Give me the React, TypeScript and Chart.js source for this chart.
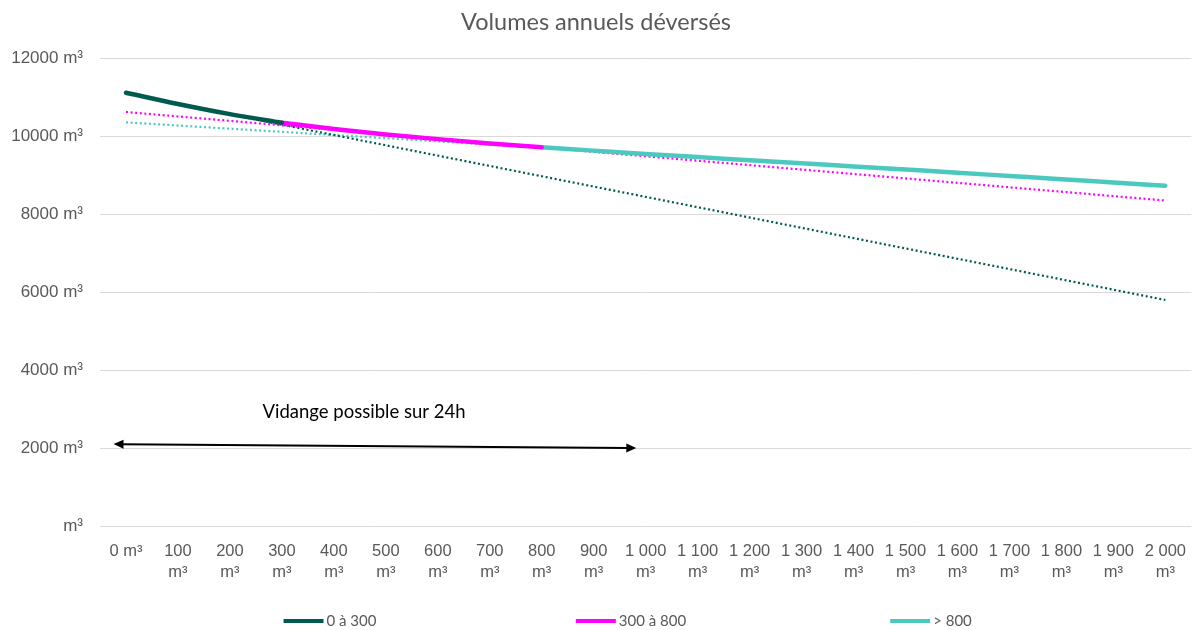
import React, { useEffect, useRef } from "react";
import { Chart, registerables } from "chart.js";

Chart.register(...registerables);

// ---- Data ----
const categories = [0, 100, 200, 300, 400, 500, 600, 700, 800, 900, 1000, 1100, 1200, 1300, 1400, 1500, 1600, 1700, 1800, 1900, 2000];
const xTickLabels: (string | string[])[] = [
  "0 m³", ["100", "m³"], ["200", "m³"], ["300", "m³"], ["400", "m³"], ["500", "m³"], ["600", "m³"], ["700", "m³"], ["800", "m³"], ["900", "m³"],
  ["1 000", "m³"], ["1 100", "m³"], ["1 200", "m³"], ["1 300", "m³"], ["1 400", "m³"], ["1 500", "m³"], ["1 600", "m³"], ["1 700", "m³"], ["1 800", "m³"], ["1 900", "m³"], ["2 000", "m³"],
];
const N = null;
const serie0a300 = [11110, 10820, 10560, 10340, N, N, N, N, N, N, N, N, N, N, N, N, N, N, N, N, N];
const serie300a800 = [N, N, N, 10340, 10180, 10040, 9920, 9810, 9710, N, N, N, N, N, N, N, N, N, N, N, N];
const seriePlus800 = [N, N, N, N, N, N, N, N, 9710, 9625, 9540, 9460, 9380, 9300, 9220, 9140, 9060, 8975, 8890, 8810, 8725];
// linear trend lines (end points)
const trend0a300 = [11083, N, N, N, N, N, N, N, N, N, N, N, N, N, N, N, N, N, N, N, 5795];
const trend300a800 = [10615, N, N, N, N, N, N, N, N, N, N, N, N, N, N, N, N, N, N, N, 8345];
const trendPlus800 = [10350, N, N, N, N, N, N, N, N, N, N, N, N, N, N, N, N, N, N, N, 8725];
const seriesNames = ["0 à 300", "300 à 800", "> 800"];
const yTicks = [0, 2000, 4000, 6000, 8000, 10000, 12000];
// annotation: arrow from / to (category index, value)
const arrowStart = { x: -0.24, y: 2100 };
const arrowEnd = { x: 9.82, y: 2000 };
const arrowText = { x: 4.58, y: 2920, text: "Vidange possible sur 24h" };

const DARK = "#005B4F";
const MAGENTA = "#FF00FF";
const TURQ = "#4CC9BF";
const GRAY = "#595959";
const FONT = "Lato";
const TICKFONT = "'Liberation Sans'";

const legendPlugin = {
  id: "customLegend",
  afterDraw(chart: any) {
    const ctx = chart.ctx;
    const centers = [330, 631, 931];
    const y = 621;
    ctx.save();
    ctx.font = `15px ${FONT}`;
    ctx.textBaseline = "middle";
    ctx.textAlign = "left";
    for (let i = 0; i < 3; i++) {
      const ds = chart.data.datasets[i];
      const tw = ctx.measureText(ds.label).width;
      const sw = 40;
      const total = sw + 3 + tw;
      const x0 = centers[i] - total / 2;
      ctx.strokeStyle = ds.borderColor;
      ctx.lineWidth = 4;
      ctx.lineCap = "butt";
      ctx.beginPath();
      ctx.moveTo(x0, y);
      ctx.lineTo(x0 + sw, y);
      ctx.stroke();
      ctx.fillStyle = GRAY;
      ctx.fillText(ds.label, x0 + sw + 3, y);
    }
    ctx.restore();
  },
};

const arrowPlugin = {
  id: "arrowAnnot",
  afterDatasetsDraw(chart: any) {
    const { ctx, scales } = chart;
    const xs = scales.x, ys = scales.y;
    const x1 = xs.getPixelForValue(arrowStart.x), y1 = ys.getPixelForValue(arrowStart.y);
    const x2 = xs.getPixelForValue(arrowEnd.x), y2 = ys.getPixelForValue(arrowEnd.y);
    const ang = Math.atan2(y2 - y1, x2 - x1);
    const hl = 10, hw = 4.5;
    ctx.save();
    ctx.strokeStyle = "#000";
    ctx.fillStyle = "#000";
    ctx.lineWidth = 2;
    ctx.beginPath();
    ctx.moveTo(x1 + Math.cos(ang) * hl * 0.8, y1 + Math.sin(ang) * hl * 0.8);
    ctx.lineTo(x2 - Math.cos(ang) * hl * 0.8, y2 - Math.sin(ang) * hl * 0.8);
    ctx.stroke();
    const head = (tx: number, ty: number, a: number) => {
      ctx.beginPath();
      ctx.moveTo(tx, ty);
      ctx.lineTo(tx - Math.cos(a) * hl - Math.sin(a) * hw, ty - Math.sin(a) * hl + Math.cos(a) * hw);
      ctx.lineTo(tx - Math.cos(a) * hl + Math.sin(a) * hw, ty - Math.sin(a) * hl - Math.cos(a) * hw);
      ctx.closePath();
      ctx.fill();
    };
    head(x2, y2, ang);
    head(x1, y1, ang + Math.PI);
    ctx.font = `18.5px ${FONT}`;
    ctx.textAlign = "center";
    ctx.textBaseline = "middle";
    ctx.fillText(arrowText.text, xs.getPixelForValue(arrowText.x), ys.getPixelForValue(arrowText.y));
    ctx.restore();
  },
};

export default function App() {
  const ref = useRef<HTMLCanvasElement>(null);
  useEffect(() => {
    document.body.style.margin = "0";
    const solid = (label: string, data: any[], color: string) => ({
      label, data, borderColor: color, backgroundColor: color, borderWidth: 4.5,
      pointRadius: 0, tension: 0.4, cubicInterpolationMode: "monotone" as const, spanGaps: false, borderCapStyle: "round" as const,
    });
    const dotted = (label: string, data: any[], color: string) => ({
      label, data, borderColor: color, backgroundColor: color, borderWidth: 2.2,
      pointRadius: 0, spanGaps: true, borderDash: [2, 2.6], tension: 0,
    });
    const chart = new Chart(ref.current!, {
      type: "line",
      data: {
        labels: categories.map(String),
        datasets: [
          solid(seriesNames[0], serie0a300, DARK),
          solid(seriesNames[1], serie300a800, MAGENTA),
          solid(seriesNames[2], seriePlus800, TURQ),
          dotted("Tendance 0 à 300", trend0a300, DARK),
          dotted("Tendance 300 à 800", trend300a800, MAGENTA),
          dotted("Tendance > 800", trendPlus800, TURQ),
        ],
      },
      options: {
        animation: false,
        responsive: false,
        layout: { padding: { left: 0, right: 0, top: 0, bottom: 44 } },
        plugins: {
          legend: { display: false },
          tooltip: { enabled: false },
          title: {
            display: true,
            text: "Volumes annuels déversés",
            color: GRAY,
            font: { family: FONT, size: 23.5, weight: "normal" as any },
            padding: { top: 8, bottom: 21.8 },
          },
        },
        scales: {
          x: {
            offset: true,
            grid: { display: false },
            border: { display: false },
            ticks: {
              autoSkip: false,
              maxRotation: 0,
              minRotation: 0,
              padding: 6,
              color: GRAY,
              font: { family: TICKFONT, size: 16.5, lineHeight: 1.33 },
              callback: (_v: any, i: number) => xTickLabels[i],
            },
            afterFit: (s: any) => { s.height = 60; },
          },
          y: {
            min: 0,
            max: 12000,
            afterBuildTicks: (s: any) => { s.ticks = yTicks.map((v) => ({ value: v })); },
            grid: { color: "#D9D9D9", lineWidth: 1, drawTicks: false },
            border: { display: false },
            ticks: {
              padding: 17,
              color: GRAY,
              font: { family: TICKFONT, size: 17 },
              callback: (v: any) => (v === 0 ? "m³" : `${v} m³`),
            },
            afterFit: (s: any) => { s.width = 100; },
          },
        },
      },
      plugins: [legendPlugin, arrowPlugin],
    });
    return () => chart.destroy();
  }, []);
  return (
    <div style={{ position: "absolute", left: 0, top: 0, width: 1192, height: 630 }}>
      <canvas ref={ref} width={1192} height={630} />
    </div>
  );
}
